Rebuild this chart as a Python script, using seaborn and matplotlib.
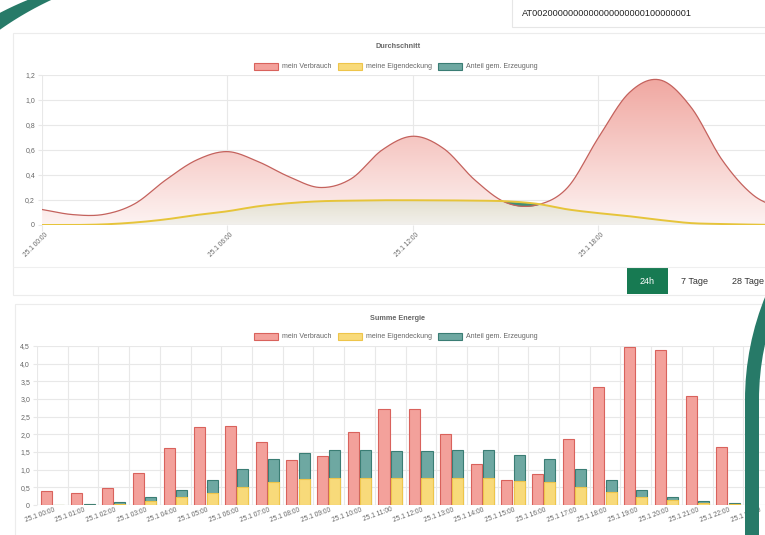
import numpy as np
import pandas as pd
import matplotlib
matplotlib.use("Agg")
import matplotlib.pyplot as plt
import seaborn as sns
from matplotlib.patches import Rectangle, Wedge, PathPatch, Polygon
from matplotlib.colors import LinearSegmentedColormap

# ---------------- data ----------------
series_names = ["mein Verbrauch", "meine Eigendeckung", "Anteil gem. Erzeugung"]

avg_title = "Durchschnitt"
avg_hours = [0, 1, 2, 3, 4, 5, 6, 7, 8, 9, 10, 11, 12, 13, 14, 15, 16, 17, 18, 19, 20, 21, 22, 23, 24]
avg_verbrauch = [0.124, 0.083, 0.085, 0.17, 0.36, 0.52, 0.587, 0.506, 0.385, 0.30, 0.37, 0.60,
                 0.71, 0.61, 0.36, 0.18, 0.16, 0.30, 0.70, 1.06, 1.16, 0.94, 0.52, 0.24, 0.12]
avg_eigendeckung = [0.0, 0.0, 0.005, 0.02, 0.045, 0.08, 0.11, 0.15, 0.175, 0.19, 0.195, 0.198,
                    0.198, 0.197, 0.195, 0.19, 0.17, 0.125, 0.095, 0.07, 0.04, 0.015, 0.008, 0.003, 0.0]
avg_xticks = [0, 6, 12, 18]
avg_xticklabels = ["25.1 00:00", "25.1 06:00", "25.1 12:00", "25.1 18:00"]
avg_yticks = [0, 0.2, 0.4, 0.6, 0.8, 1.0, 1.2]
avg_yticklabels = ["0", "0,2", "0,4", "0,6", "0,8", "1,0", "1,2"]

sum_title = "Summe Energie"
sum_labels = ["25.1 00:00", "25.1 01:00", "25.1 02:00", "25.1 03:00", "25.1 04:00", "25.1 05:00",
              "25.1 06:00", "25.1 07:00", "25.1 08:00", "25.1 09:00", "25.1 10:00", "25.1 11:00",
              "25.1 12:00", "25.1 13:00", "25.1 14:00", "25.1 15:00", "25.1 16:00", "25.1 17:00",
              "25.1 18:00", "25.1 19:00", "25.1 20:00", "25.1 21:00", "25.1 22:00", "25.1 23:00"]
sum_verbrauch = [0.41, 0.33, 0.47, 0.91, 1.60, 2.20, 2.25, 1.77, 1.28, 1.39, 2.07, 2.72,
                 2.72, 2.01, 1.15, 0.70, 0.89, 1.86, 3.35, 4.48, 4.38, 3.08, 1.64, np.nan]
sum_eigendeckung = [0.0, 0.0, 0.02, 0.12, 0.22, 0.35, 0.52, 0.66, 0.75, 0.77, 0.77, 0.77,
                    0.77, 0.77, 0.77, 0.68, 0.66, 0.52, 0.38, 0.24, 0.14, 0.07, 0.03, np.nan]
sum_anteil = [0.0, 0.03, 0.06, 0.10, 0.20, 0.36, 0.50, 0.64, 0.73, 0.79, 0.79, 0.77,
              0.77, 0.79, 0.79, 0.74, 0.64, 0.51, 0.33, 0.19, 0.08, 0.03, 0.02, np.nan]
sum_yticks = [0, 0.5, 1.0, 1.5, 2.0, 2.5, 3.0, 3.5, 4.0, 4.5]
sum_yticklabels = ["0", "0,5", "1,0", "1,5", "2,0", "2,5", "3,0", "3,5", "4,0", "4,5"]

zaehlpunkt = "AT0020000000000000000000100000001"
buttons = ["24h", "7 Tage", "28 Tage"]

# ---------------- style ----------------
RED_F, RED_E = "#f3a19b", "#d9625c"
YEL_F, YEL_E = "#f8da7a", "#eec54a"
TEA_F, TEA_E = "#6ea8a2", "#3a7d74"
DEEP = "#277a68"
GRID = "#e8e8e8"
TXT = "#666666"
FONT = ["Liberation Sans", "DejaVu Sans"]

sns.set_theme(style="white")
plt.rcParams["font.family"] = FONT

W, H = 765, 535
fig = plt.figure(figsize=(W / 100, H / 100), dpi=100)
fig.patch.set_facecolor("white")


def px_axes(l, t, r, b, z=1):
    return fig.add_axes([l / W, 1 - b / H, (r - l) / W, (b - t) / H], zorder=z)


def px2pt(v):
    return v * 72 / 100


# ---------------- page background ----------------
bg = px_axes(0, 0, W, H, z=0)
bg.set_xlim(0, W)
bg.set_ylim(H, 0)
bg.axis("off")
bg.add_patch(Rectangle((13, 33), 800, 262, facecolor="white", edgecolor="#ececec", lw=0.8))
bg.plot([13, 800], [267, 267], color="#efefef", lw=0.8)
bg.add_patch(Rectangle((15, 304), 800, 260, facecolor="white", edgecolor="#ececec", lw=0.8))
bg.add_patch(Rectangle((512, -5), 300, 32, facecolor="white", edgecolor="#e6e6e6", lw=0.8))
bg.text(522, 14, zaehlpunkt, fontsize=6.6, color="#222222", va="center", ha="left")

bg.add_patch(Rectangle((627, 268), 41, 26, facecolor="#177a52", edgecolor="none"))
bg.text(647.5, 281.5, buttons[0], fontsize=6.5, color="white", ha="center", va="center")
bg.text(695, 281.5, buttons[1], fontsize=6.5, color="#333333", ha="center", va="center")
bg.text(732, 281.5, buttons[2], fontsize=6.5, color="#333333", ha="left", va="center")

fills = [(RED_F, RED_E), (YEL_F, YEL_E), (TEA_F, TEA_E)]
leg_x = [254, 338, 438]
for title, ty, ly in [(avg_title, 47, 66.5), (sum_title, 319, 336)]:
    bg.text(398, ty, title, fontsize=5.2, color=TXT, ha="center", va="center", weight="bold")
    for name, (fc, ec), x0 in zip(series_names, fills, leg_x):
        bg.add_patch(Rectangle((x0, ly - 3.5), 24, 7, facecolor=fc, edgecolor=ec, lw=0.8))
        bg.text(x0 + 28, ly, name, fontsize=5, color=TXT, ha="left", va="center")


# ---------------- top chart: Durchschnitt ----------------
def smooth(x, y, n=24):
    x = np.asarray(x, float)
    y = np.asarray(y, float)
    m = np.gradient(y, x)
    xs, ys = [], []
    t = np.linspace(0, 1, n, endpoint=False)
    h00 = 2 * t**3 - 3 * t**2 + 1
    h10 = t**3 - 2 * t**2 + t
    h01 = -2 * t**3 + 3 * t**2
    h11 = t**3 - t**2
    for i in range(len(x) - 1):
        h = x[i + 1] - x[i]
        xs.append(x[i] + t * h)
        ys.append(h00 * y[i] + h10 * h * m[i] + h01 * y[i + 1] + h11 * h * m[i + 1])
    xs.append([x[-1]])
    ys.append([y[-1]])
    return np.concatenate(xs), np.concatenate(ys)


ax1 = px_axes(42, 75, 784, 225, z=2)
ax1.patch.set_alpha(0)
xr, yr = smooth(avg_hours, avg_verbrauch)
xy_, yy_ = smooth(avg_hours, avg_eigendeckung)


def grad_fill(ax, x, y, c_top, c_bot, ytop):
    poly = ax.fill_between(x, y, 0, color="none", lw=0)
    patch = PathPatch(poly.get_paths()[0], transform=ax.transData, facecolor="none", edgecolor="none")
    ax.add_patch(patch)
    cmap = LinearSegmentedColormap.from_list("g", [c_bot, c_top])
    grad = np.linspace(1, 0, 256).reshape(-1, 1)
    im = ax.imshow(grad, extent=[0, 24, 0, ytop], origin="upper", aspect="auto", cmap=cmap,
                   zorder=1, interpolation="bilinear")
    im.set_clip_path(patch)


grad_fill(ax1, xr, yr, "#f0a69f", "#fdf3f2", 1.2)
grad_fill(ax1, xy_, yy_, "#e4e0cf", "#f2f0ec", 0.2)
ax1.fill_between(xr, yr, yy_, where=yr < yy_, interpolate=True, color="#3f8f78", lw=0, zorder=3)
sns.lineplot(x=xr, y=yr, ax=ax1, color="#c4625d", linewidth=0.9, zorder=4, sort=False)
sns.lineplot(x=xy_, y=yy_, ax=ax1, color="#e6c43a", linewidth=1.4, zorder=5, sort=False)

ax1.set_xlim(0, 24)
ax1.set_ylim(0, 1.2)
ax1.set_yticks(avg_yticks)
ax1.set_yticklabels(avg_yticklabels)
ax1.set_xticks(avg_xticks)
ax1.set_xticklabels([])
ax1.grid(True, color=GRID, lw=0.8, zorder=0)
ax1.set_axisbelow(True)
ax1.axhline(0, color="#dadada", lw=0.8, zorder=2)
for s in ax1.spines.values():
    s.set_visible(False)
ax1.tick_params(axis="y", length=3, width=0.8, color=GRID, labelsize=5, labelcolor=TXT, pad=2, left=True)
ax1.tick_params(axis="x", length=4, width=0.8, color=GRID, bottom=True)
for xt, lab in zip(avg_xticks, avg_xticklabels):
    ax1.annotate(lab, xy=(xt, 0), xycoords=("data", "axes fraction"),
                 xytext=(px2pt(4.5), -px2pt(8.5)), textcoords="offset points",
                 rotation=45, rotation_mode="anchor", ha="right", va="center",
                 fontsize=4.8, color=TXT)
ax1.set_xlabel("")
ax1.set_ylabel("")

# ---------------- bottom chart: Summe Energie ----------------
ax2 = px_axes(37, 346, 774, 505, z=2)
ax2.patch.set_alpha(0)
totals = [a + b for a, b in zip(sum_eigendeckung, sum_anteil)]
df_main = pd.DataFrame({
    "Zeit": sum_labels * 2,
    "Reihe": ["v"] * len(sum_labels) + ["e"] * len(sum_labels),
    "Wert": list(sum_verbrauch) + totals,
})
df_yel = pd.DataFrame({
    "Zeit": sum_labels * 2,
    "Reihe": ["v"] * len(sum_labels) + ["e"] * len(sum_labels),
    "Wert": [0.0] * len(sum_labels) + list(sum_eigendeckung),
})
sns.barplot(data=df_main, x="Zeit", y="Wert", hue="Reihe", hue_order=["v", "e"],
            palette={"v": RED_F, "e": TEA_F}, width=0.8, gap=0.1, saturation=1,
            errorbar=None, legend=False, ax=ax2, zorder=3)
sns.barplot(data=df_yel, x="Zeit", y="Wert", hue="Reihe", hue_order=["v", "e"],
            palette={"v": RED_F, "e": YEL_F}, width=0.8, gap=0.1, saturation=1,
            errorbar=None, legend=False, ax=ax2, zorder=4)
edge_styles = [(RED_F, RED_E, 1), (TEA_F, TEA_E, 1), (None, None, 0), (YEL_F, YEL_E, 1)]
for cont, (fc, ec, vis) in zip(ax2.containers, edge_styles):
    for bar in cont:
        if not vis:
            bar.set_visible(False)
            continue
        bar.set_edgecolor(ec)
        bar.set_linewidth(0.8)

ax2.set_xlim(-0.5, 23.5)
ax2.set_ylim(0, 4.5)
ax2.set_yticks(sum_yticks)
ax2.set_yticklabels(sum_yticklabels)
ax2.set_xticks(range(len(sum_labels)))
ax2.set_xticklabels([])
ax2.set_xticks(np.arange(-0.5, len(sum_labels), 1), minor=True)
ax2.grid(True, axis="y", color=GRID, lw=0.8, zorder=0)
ax2.grid(True, axis="x", which="minor", color=GRID, lw=0.8, zorder=0)
ax2.grid(False, axis="x", which="major")
ax2.set_axisbelow(True)
ax2.axhline(0, color="#dadada", lw=0.8, zorder=2)
for s in ax2.spines.values():
    s.set_visible(False)
ax2.tick_params(axis="y", length=3, width=0.8, color=GRID, labelsize=5, labelcolor=TXT, pad=2, left=True)
ax2.tick_params(axis="x", which="both", length=0)
for i, lab in enumerate(sum_labels):
    ax2.annotate(lab, xy=(i, 0), xycoords=("data", "axes fraction"),
                 xytext=(px2pt(2), -px2pt(4.5)), textcoords="offset points",
                 rotation=20, rotation_mode="anchor", ha="right", va="center",
                 fontsize=4.8, color=TXT)
ax2.set_xlabel("")
ax2.set_ylabel("")

# ---------------- decorative frame arcs ----------------
fg = px_axes(0, 0, W, H, z=10)
fg.set_xlim(0, W)
fg.set_ylim(H, 0)
fg.axis("off")
fg.patch.set_alpha(0)
th = np.radians(np.linspace(215, 268, 80))
outer = np.column_stack([150 + 324 * np.cos(th), 300 + 324 * np.sin(th)])
inner = np.column_stack([191 + 331 * np.cos(th), 300 + 331 * np.sin(th)])[::-1]
fg.add_patch(Polygon(np.vstack([outer, inner]), closed=True, facecolor=DEEP, edgecolor="none"))
fg.add_patch(Wedge((1020, 400), 275, 180, 270, width=14, facecolor=DEEP, edgecolor="none"))
fg.add_patch(Rectangle((745, 399.5), 14, 140, facecolor=DEEP, edgecolor="none"))

fig.savefig("out.png", dpi=100)
